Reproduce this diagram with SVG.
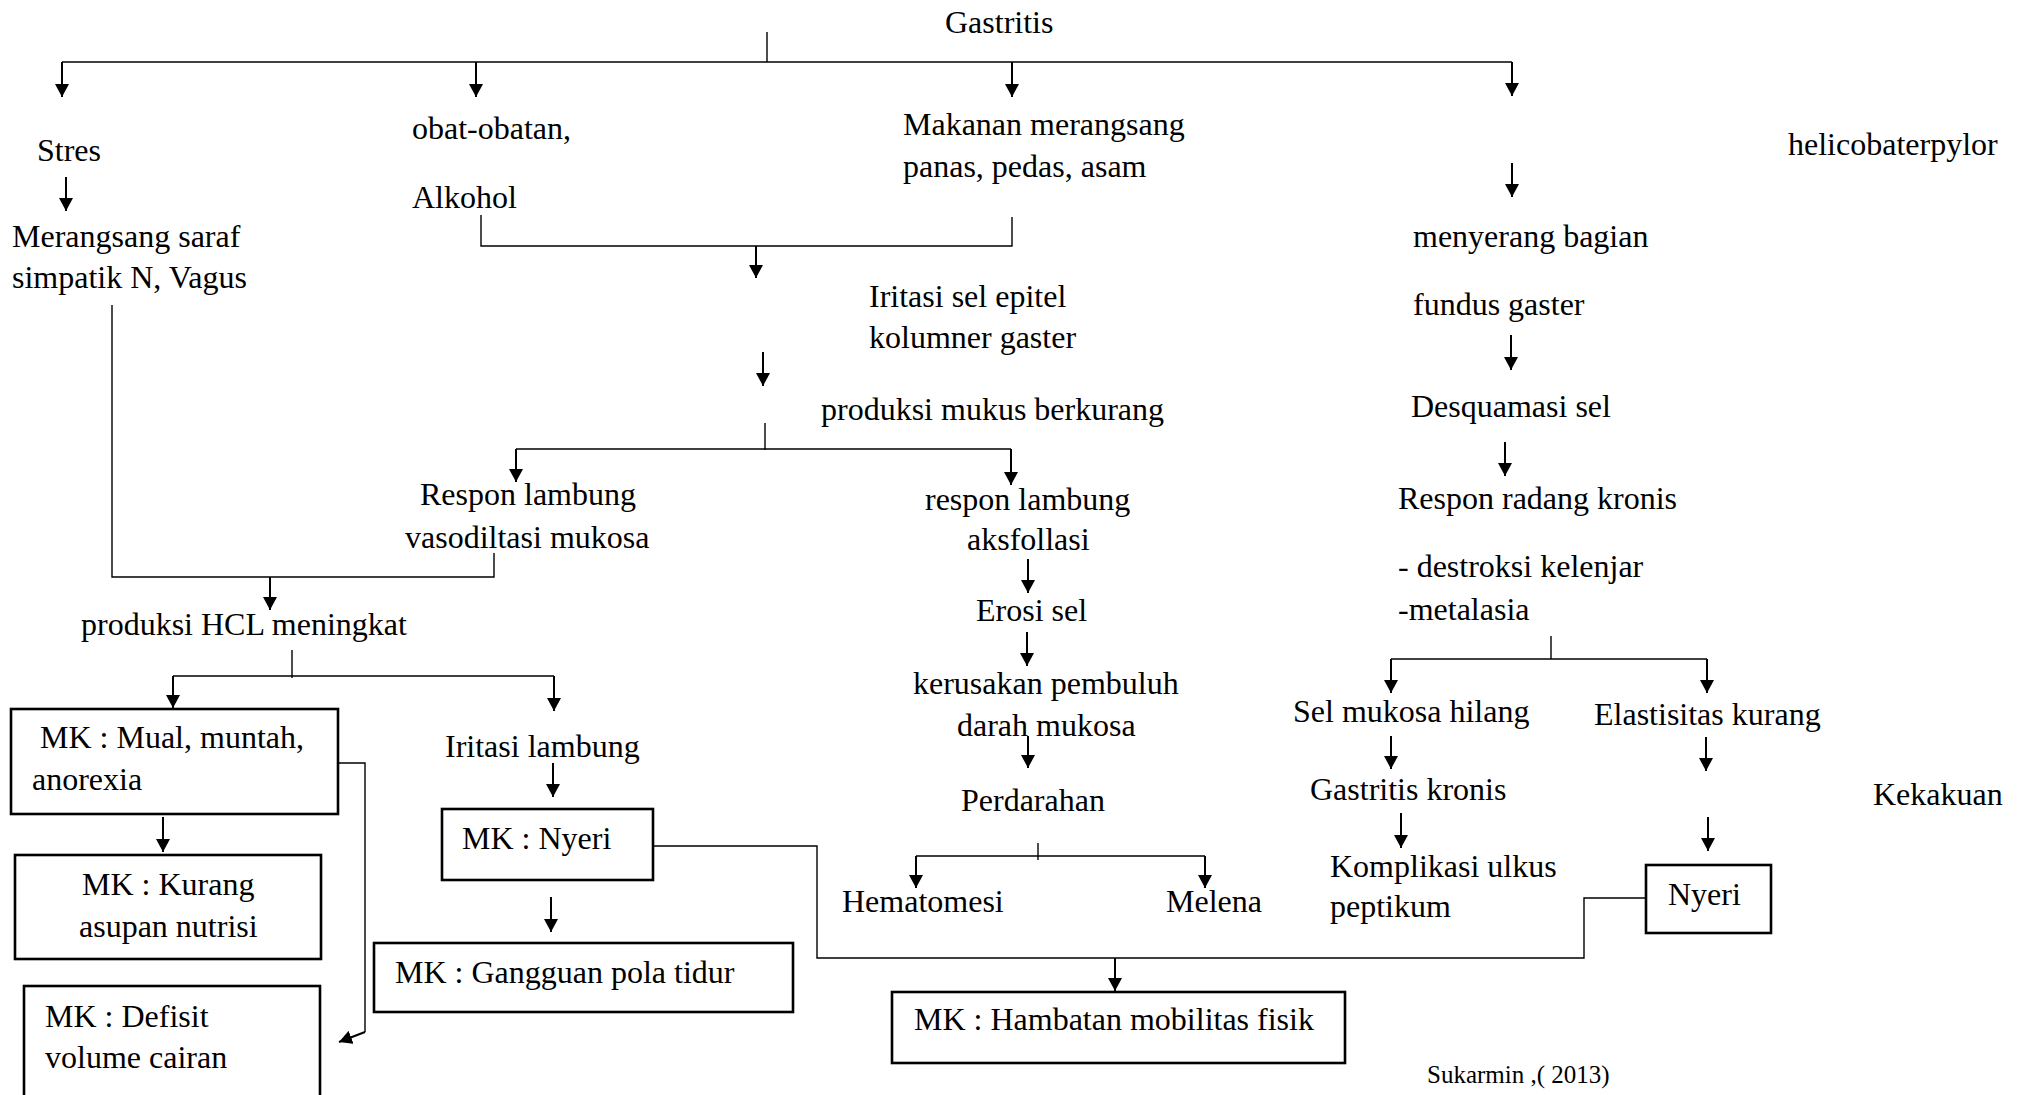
<svg xmlns="http://www.w3.org/2000/svg" width="2024" height="1095" viewBox="0 0 2024 1095">
<style>
text{font-family:"Liberation Serif","Times New Roman",serif;font-size:32px;fill:#000}
.src{font-size:25px}
.ln{fill:none;stroke:#000;stroke-width:1.4}
.ar{fill:none;stroke:#000;stroke-width:2;marker-end:url(#ah)}
.box{fill:#fff;stroke:#000;stroke-width:2.6}
</style>
<defs>
<marker id="ah" markerUnits="userSpaceOnUse" markerWidth="14" markerHeight="14" refX="13" refY="7" orient="auto">
<path d="M0,0 L13,7 L0,14 z" fill="#000"/>
</marker>
</defs>
<rect width="2024" height="1095" fill="#fff"/>
<g id="connectors">
<line class="ln" x1="767" y1="32" x2="767" y2="62"/>
<line class="ln" x1="62" y1="62" x2="1512" y2="62"/>
<line class="ar" x1="62" y1="62" x2="62" y2="97"/>
<line class="ar" x1="476" y1="62" x2="476" y2="97"/>
<line class="ar" x1="1012" y1="62" x2="1012" y2="97"/>
<line class="ar" x1="1512" y1="62" x2="1512" y2="96"/>
<line class="ar" x1="66" y1="177" x2="66" y2="211"/>
<line class="ar" x1="1512" y1="163" x2="1512" y2="197"/>
<line class="ar" x1="1511" y1="335" x2="1511" y2="370"/>
<line class="ar" x1="1505" y1="442" x2="1505" y2="476"/>
<polyline class="ln" points="481,215 481,246 1012,246 1012,217"/>
<line class="ar" x1="756" y1="246" x2="756" y2="278"/>
<line class="ar" x1="763" y1="352" x2="763" y2="386"/>
<line class="ln" x1="765" y1="423" x2="765" y2="450"/>
<line class="ln" x1="516" y1="449" x2="1011" y2="449"/>
<line class="ar" x1="516" y1="449" x2="516" y2="482"/>
<line class="ar" x1="1011" y1="449" x2="1011" y2="485"/>
<polyline class="ln" points="112,305 112,577 494,577 494,553"/>
<line class="ar" x1="270" y1="577" x2="270" y2="610"/>
<line class="ln" x1="292" y1="650" x2="292" y2="678"/>
<line class="ln" x1="173" y1="676" x2="554" y2="676"/>
<line class="ar" x1="173" y1="676" x2="173" y2="708"/>
<line class="ar" x1="554" y1="676" x2="554" y2="711"/>
<polyline class="ln" points="338,763 365,763 365,1032"/>
<line class="ar" x1="365" y1="1032" x2="339" y2="1042"/>
<line class="ar" x1="163" y1="817" x2="163" y2="852"/>
<line class="ar" x1="553" y1="763" x2="553" y2="797"/>
<line class="ar" x1="551" y1="897" x2="551" y2="932"/>
<polyline class="ln" points="653,846 817,846 817,958 1584,958 1584,898 1646,898"/>
<line class="ar" x1="1115" y1="958" x2="1115" y2="991"/>
<line class="ar" x1="1028" y1="559" x2="1028" y2="593"/>
<line class="ar" x1="1027" y1="632" x2="1027" y2="666"/>
<line class="ar" x1="1028" y1="736" x2="1028" y2="768"/>
<line class="ln" x1="1038" y1="843" x2="1038" y2="860"/>
<line class="ln" x1="916" y1="856" x2="1205" y2="856"/>
<line class="ar" x1="916" y1="856" x2="916" y2="888"/>
<line class="ar" x1="1205" y1="856" x2="1205" y2="888"/>
<line class="ln" x1="1551" y1="636" x2="1551" y2="659"/>
<line class="ln" x1="1391" y1="659" x2="1707" y2="659"/>
<line class="ar" x1="1391" y1="659" x2="1391" y2="693"/>
<line class="ar" x1="1707" y1="659" x2="1707" y2="693"/>
<line class="ar" x1="1391" y1="736" x2="1391" y2="769"/>
<line class="ar" x1="1401" y1="813" x2="1401" y2="848"/>
<line class="ar" x1="1706" y1="737" x2="1706" y2="771"/>
<line class="ar" x1="1708" y1="817" x2="1708" y2="851"/>
</g>
<g id="gastritis"><text x="945" y="33">Gastritis</text></g>
<g id="stres"><text x="37" y="161">Stres</text></g>
<g id="merangsang"><text x="12" y="247">Merangsang saraf</text><text x="12" y="288">simpatik N, Vagus</text></g>
<g id="obat"><text x="412" y="139">obat-obatan,</text><text x="412" y="208">Alkohol</text></g>
<g id="makanan"><text x="903" y="135">Makanan merangsang</text><text x="903" y="177">panas, pedas, asam</text></g>
<g id="helico"><text x="1788" y="155">helicobaterpylor</text></g>
<g id="menyerang"><text x="1413" y="247">menyerang bagian</text><text x="1413" y="315">fundus gaster</text></g>
<g id="iritasi-epitel"><text x="869" y="307">Iritasi sel epitel</text><text x="869" y="348">kolumner gaster</text></g>
<g id="mukus"><text x="821" y="420">produksi mukus berkurang</text></g>
<g id="vasodilatasi"><text x="420" y="505">Respon lambung</text><text x="405" y="548">vasodiltasi mukosa</text></g>
<g id="aksfollasi"><text x="925" y="510">respon lambung</text><text x="967" y="550">aksfollasi</text></g>
<g id="erosi"><text x="976" y="621">Erosi sel</text></g>
<g id="kerusakan"><text x="913" y="694">kerusakan pembuluh</text><text x="957" y="736">darah mukosa</text></g>
<g id="perdarahan"><text x="961" y="811">Perdarahan</text></g>
<g id="hematomesi"><text x="842" y="912">Hematomesi</text></g>
<g id="melena"><text x="1166" y="912">Melena</text></g>
<g id="hcl"><text x="81" y="635">produksi HCL meningkat</text></g>
<g id="mual"><rect class="box" x="11" y="709" width="327" height="105"/><text x="40" y="748">MK : Mual, muntah,</text><text x="32" y="790">anorexia</text></g>
<g id="kurang"><rect class="box" x="15" y="855" width="306" height="104"/><text x="82" y="895">MK : Kurang</text><text x="79" y="937">asupan nutrisi</text></g>
<g id="defisit"><rect class="box" x="24" y="986" width="296" height="120"/><text x="45" y="1027">MK : Defisit</text><text x="45" y="1068">volume cairan</text></g>
<g id="iritasi-lambung"><text x="445" y="757">Iritasi lambung</text></g>
<g id="mk-nyeri"><rect class="box" x="442" y="809" width="211" height="71"/><text x="462" y="849">MK : Nyeri</text></g>
<g id="gangguan"><rect class="box" x="374" y="943" width="419" height="69"/><text x="395" y="983">MK : Gangguan pola tidur</text></g>
<g id="hambatan"><rect class="box" x="892" y="992" width="453" height="71"/><text x="914" y="1030">MK : Hambatan mobilitas fisik</text></g>
<g id="desquamasi"><text x="1411" y="417">Desquamasi sel</text></g>
<g id="radang"><text x="1398" y="509">Respon radang kronis</text></g>
<g id="destroksi"><text x="1398" y="577">- destroksi kelenjar</text><text x="1398" y="620">-metalasia</text></g>
<g id="sel-mukosa"><text x="1293" y="722">Sel mukosa hilang</text></g>
<g id="elastisitas"><text x="1594" y="725">Elastisitas kurang</text></g>
<g id="gastritis-kronis"><text x="1310" y="800">Gastritis kronis</text></g>
<g id="komplikasi"><text x="1330" y="877">Komplikasi ulkus</text><text x="1330" y="917">peptikum</text></g>
<g id="kekakuan"><text x="1873" y="805">Kekakuan</text></g>
<g id="nyeri"><rect class="box" x="1646" y="865" width="125" height="68"/><text x="1668" y="905">Nyeri</text></g>
<g id="sumber"><text class="src" x="1427" y="1083">Sukarmin ,( 2013)</text></g>
</svg>
